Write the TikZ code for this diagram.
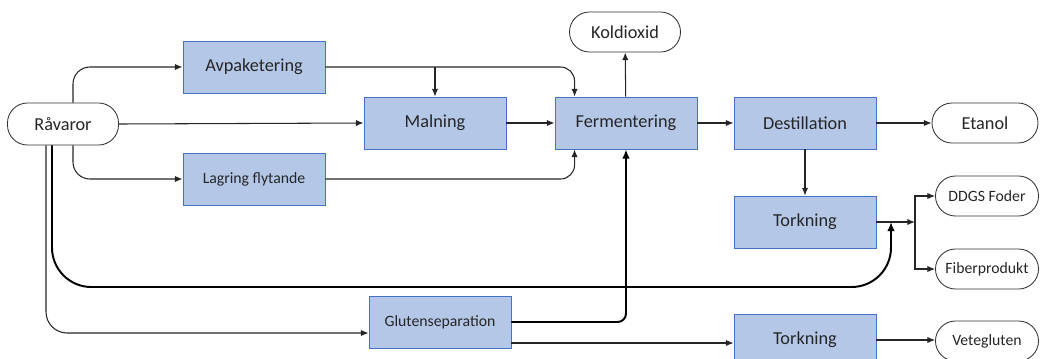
\documentclass[tikz,border=0pt]{standalone}
\usepackage{fontspec}
\setmainfont{Carlito}
\usepackage{tikz}
\usetikzlibrary{calc,arrows.meta}
\definecolor{boxfill}{RGB}{180,199,231}
\definecolor{boxline}{RGB}{68,114,196}

\begin{document}
\begin{tikzpicture}[x=0.025cm,y=-0.025cm,
  box/.style={rectangle,draw=boxline,line width=0.6pt,fill=boxfill,minimum width=3.55cm,minimum height=1.3cm,inner sep=0pt,text=black!85},
  pill/.style={rectangle,rounded corners=0.5cm,draw=black!80,line width=0.6pt,fill=white,minimum height=1cm,inner sep=0pt,text=black!85},
  big/.style={font=\fontsize{13}{15}\selectfont},
  small/.style={font=\fontsize{11.2}{13}\selectfont},
  flow/.style={-{Latex[length=5.5pt,width=4.5pt]},black!85,line width=0.75pt},
  heavy/.style={-{Latex[length=6.5pt,width=5.5pt]},black,line width=1.4pt}]
              \useasboundingbox(0,0)rectangle(1041,358);
              \node[pill,big,minimum width=2.775cm,minimum height=1.05cm](rav)at(63,124){Råvaror};
              \node[box,big](avp)at(254,67){Avpaketering};
              \node[box,small](lag)at(254,179){Lagring flytande};
              \node[box,big](maln)at(435,123){Malning};
              \node[box,big](ferm)at(626,123){Fermentering};
              \node[pill,big,minimum width=2.775cm](kol)at(625,32){Koldioxid};
              \node[box,big](dest)at(805,123){Destillation};
              \node[pill,big,minimum width=2.65cm](eta)at(985,123){Etanol};
              \node[box,big](tork)at(805,222){Torkning};
              \node[pill,small,minimum width=2.575cm](ddgs)at(987,196){DDGS Foder};
              \node[pill,small,minimum width=2.575cm](fib)at(987,269){Fiberprodukt};
              \node[box,small](glut)at(440,322){Glutenseparation};
              \node[box,big](torkb)at(805,340){Torkning};
              \node[pill,small,minimum width=2.575cm](veg)at(987,341){Vetegluten};
              \coordinate(mix)at(891,222);
              \coordinate(split)at(915,222);
              \coordinate(gl)at($(glut.east)+(0,21)$);
              % main line
              \draw[flow](rav.east)--(maln.west);
              \draw[flow](maln)--(ferm);
              \draw[flow](ferm)--(dest);
              \draw[flow](dest)--(eta);
              \draw[flow](ferm)--(kol);
              \draw[flow](dest)--(tork);
              % side branches
              \draw[flow,rounded corners=12pt]($(rav.north)+(10,0)$)|-(avp.west);
              \draw[flow,rounded corners=12pt]($(rav.south)+(10,0)$)|-(lag.west);
              \draw[flow,rounded corners=10pt](avp.east)-|($(ferm.north west)+(20,0)$);
              \draw[flow](maln.north|-avp.east)--(maln.north);
              \draw[flow,rounded corners=10pt](lag.east)-|($(ferm.south west)+(20,0)$);
              \draw[heavy,rounded corners=28pt]($(rav.south)+(-11,0)$)|-($(mix)+(0,65)$)--(mix);
              \draw[flow](tork.east)--(split);
              \draw[flow](split)|-(ddgs.west);
              \draw[flow](split)|-(fib.west);
              % gluten
              \draw[flow,rounded corners=15pt]($(rav.south)+(-17,0)$)|-($(glut.west)+(0,11)$);
              \draw[heavy,rounded corners=6pt](glut.east)-|(ferm.south);
              \draw[flow](gl)--(gl-|torkb.west);
              \draw[flow](torkb.east)--(torkb.east-|veg.west);
            \end{tikzpicture}
\end{document}
